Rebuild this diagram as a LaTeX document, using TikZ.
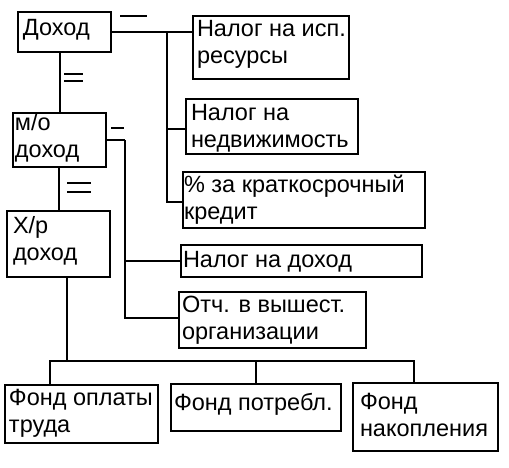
\documentclass[tikz,border=0pt]{standalone}
\usepackage{fontspec}
\setmainfont{Liberation Sans}
\begin{document}
\begin{tikzpicture}[x=1pt,y=-1pt]
\tikzset{
 box/.style={draw, line width=2pt, inner sep=0pt, outer sep=0pt, anchor=north west},
 txt/.style={inner sep=0pt, outer sep=0pt, anchor=base west, align=left, font=\fontsize{23.5}{26.5}\selectfont},
 conn/.style={line width=2pt},
}
\useasboundingbox[fill=white] (0,0) rectangle (509,467);
% boxes
\node[box, minimum width=93pt, minimum height=40pt] (doh) at (18,12) {};
\node[box, minimum width=156pt, minimum height=63pt] (nisp) at (193,16) {};
\node[box, minimum width=172pt, minimum height=55pt] (ned) at (186,99) {};
\node[box, minimum width=242pt, minimum height=56pt] (pct) at (183,172) {};
\node[box, minimum width=93pt, minimum height=54pt] (mo) at (13,113) {};
\node[box, minimum width=103pt, minimum height=66pt] (xr) at (7,211) {};
\node[box, minimum width=241pt, minimum height=32pt] (nd) at (181,245) {};
\node[box, minimum width=187pt, minimum height=56pt] (otch) at (179,292) {};
\node[box, minimum width=153pt, minimum height=58pt] (fo) at (5,385) {};
\node[box, minimum width=170pt, minimum height=47pt] (fp) at (171,384) {};
\node[box, minimum width=145pt, minimum height=68pt] (fn) at (353,383) {};
% texts (anchored at the baseline of their last line)
\node[txt] (tdoh) at (23,35) {Доход};
\node[txt] (tnisp) at (197,63) {Налог на исп.\\ресурсы};
\node[txt] (tned) at (191,147) {Налог на\\недвижимость};
\node[txt] (tpct) at (184,219) {\% за краткосрочный\\кредит};
\node[txt] (tmo) at (15,157) {м/о\\доход};
\node[txt] (txr) at (13,260) {Х/р\\доход};
\node[txt] (tnd) at (183,267) {Налог на доход};
\node[txt] (totch) at (182,339) {Отч. в вышест.\\организации};
\node[txt] (tfo) at (9,432) {Фонд оплаты\\труда};
\node[txt] (tfp) at (174,410) {Фонд потребл.};
\node[txt] (tfn) at (360,436) {Фонд\\накопления};
% connectors
\coordinate (j1) at (167,32);
\coordinate (j2) at (125,140);
\coordinate (bus) at (67,361);
\coordinate (b1) at (50,361);
\coordinate (b3) at (414,361);
\draw[conn] (doh.east) -- (doh.east -| nisp.west);
\draw[conn] (j1) |- ([yshift=-2.5pt]ned.west);
\draw[conn] (j1) |- ([yshift=-2pt]pct.west);
\draw[conn] (mo.east) -- (j2);
\draw[conn] (j2) |- (nd.west);
\draw[conn] (j2) |- ([yshift=2pt]otch.west);
\draw[conn] (mo.north) -- (mo.north |- doh.south);
\draw[conn] (xr.north) -- (xr.north |- mo.south);
\draw[conn] (xr.south -| bus) -- (bus);
\draw[conn] (b1 |- fo.north) -- (b1) -- (b3) -- (b3 |- fn.north);
\draw[conn] (fp.north) -- (fp.north |- bus);
% dash marks
\draw[conn] (120,16) -- (147,16);
\draw[conn] (64,74) -- (83,74);
\draw[conn] (64,81) -- (83,81);
\draw[conn] (67,183) -- (91,183);
\draw[conn] (67,192) -- (91,192);
\draw[conn] (111,128) -- (124,128);
\end{tikzpicture}
\end{document}
